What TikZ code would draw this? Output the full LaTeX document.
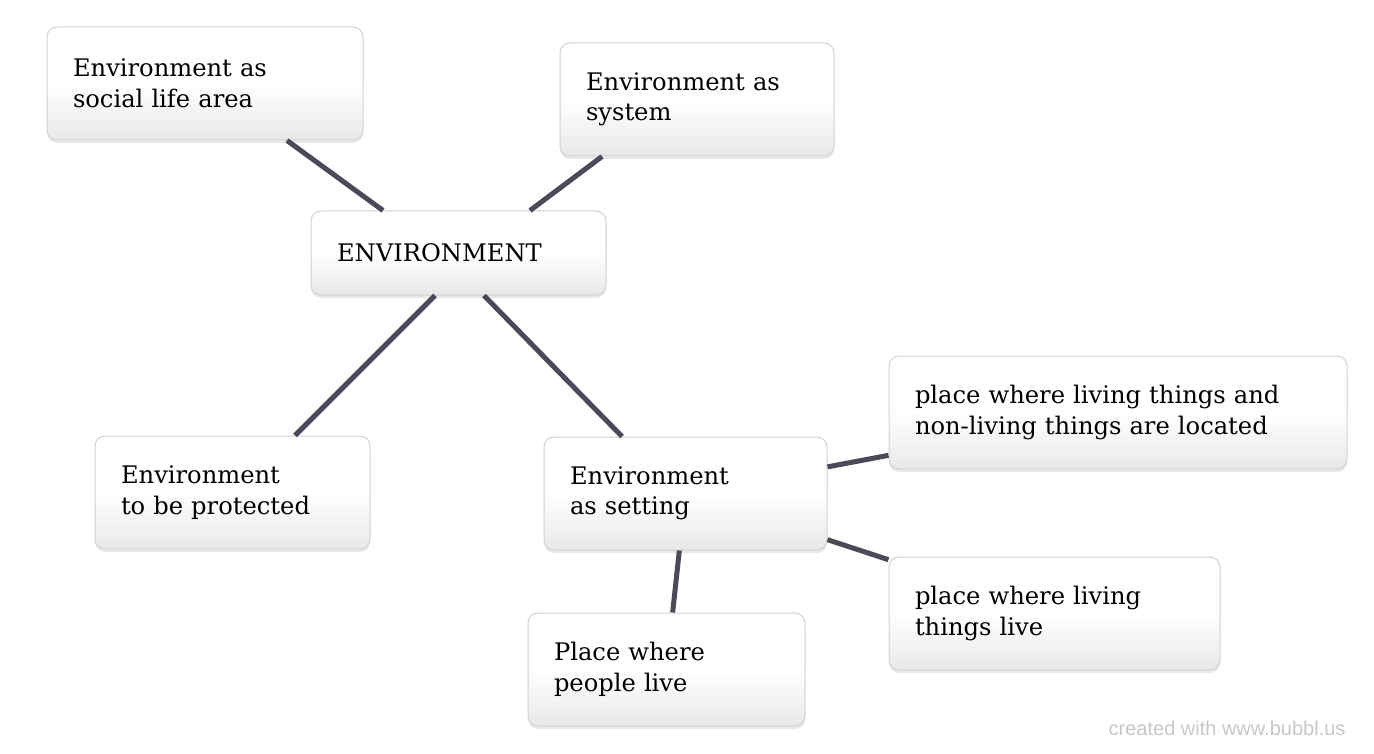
\documentclass[tikz,border=0pt]{standalone}
\usepackage{fontspec}
\setmainfont{DejaVu Serif}
\newfontfamily\creditfont{Liberation Sans}
\usetikzlibrary{shadows}
\definecolor{linkgray}{HTML}{4A4A58}
\definecolor{boxline}{HTML}{D2D2D2}

\begin{document}
\begin{tikzpicture}[x=1pt, y=-1pt,
  bubble/.style={draw=boxline, line width=1pt, rounded corners=10pt,
    top color=white, bottom color=black!9, middle color=white,
    drop shadow={shadow xshift=0pt, shadow yshift=-3pt, opacity=0.18},
    minimum height=113pt, inner xsep=26pt, align=left,
    font=\fontsize{24.2}{30.5}\selectfont},
  link/.style={line width=5pt, linkgray}]

\useasboundingbox (0,0) rectangle (1374,754);

\node[bubble, text width=264pt] (social) at (205,83.5) {Environment as\\social life area};
\node[bubble, text width=222pt] (system) at (697,99.5) {Environment as\\system};
\node[bubble, text width=243pt, minimum height=84pt] (env) at (458.5,253) {ENVIRONMENT};
\node[bubble, text width=223pt] (protect) at (232.5,492.5) {Environment\\to be protected};
\node[bubble, text width=231pt] (setting) at (685.5,493.5) {Environment\\as setting};
\node[bubble, text width=406pt] (located) at (1118,412.5) {place where living things and\\non-living things are located};
\node[bubble, text width=279pt] (things) at (1054.5,613.5) {place where living\\things live};
\node[bubble, text width=225pt] (people) at (666.5,669.5) {Place where\\people live};

\draw[link] ([xshift=82pt]social.south) -- ([xshift=-75.5pt]env.north);
\draw[link] ([xshift=-95pt]system.south) -- ([xshift=71.5pt]env.north);
\draw[link] ([xshift=-23.5pt]env.south) -- ([xshift=62.5pt]protect.north);
\draw[link] ([xshift=25.5pt]env.south) -- ([xshift=-63.5pt]setting.north);
\draw[link] (setting) -- (located);
\draw[link] (setting) -- (things);
\draw[link] (setting) -- (people);

\node[anchor=east, text=black!22, font=\creditfont\fontsize{20}{22}\selectfont] (credit) at (1349,728) {created with www.bubbl.us};

\end{tikzpicture}
\end{document}
